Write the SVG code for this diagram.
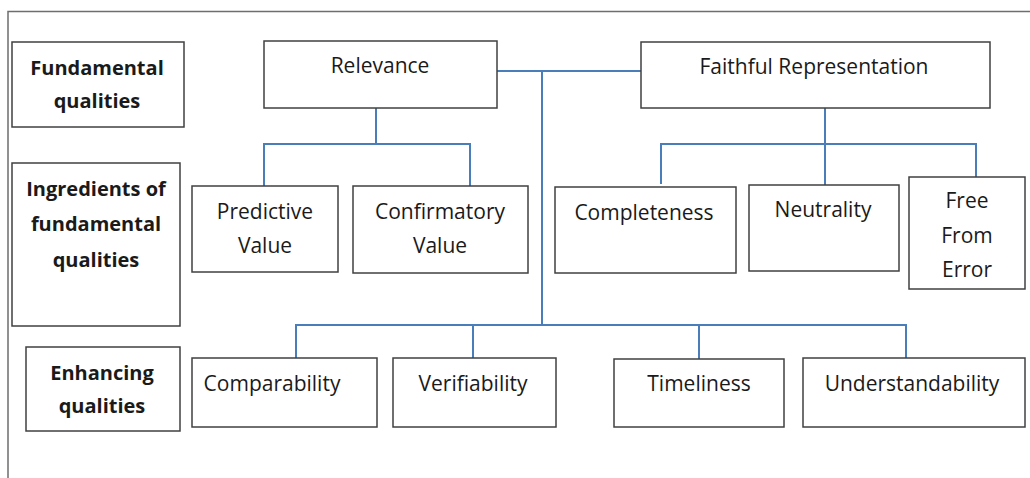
<svg xmlns="http://www.w3.org/2000/svg" width="1030" height="478" viewBox="0 0 1030 478">
<style>
.box{fill:#fff;stroke:#404040;stroke-width:1.5}
.frame{fill:none;stroke:#6e6e6e;stroke-width:1.5}
.conn{fill:none;stroke:#4a7ebb;stroke-width:2}
text{font-family:"Open Sans","Liberation Sans",sans-serif;font-size:21px;fill:#1a1a1a;text-anchor:middle}
.b{font-weight:bold;font-size:20px}
</style>
<rect width="1030" height="478" fill="#fff"/>
<path class="frame" d="M8,478 V11.5 H1030"/>
<g id="connectors">
<path class="conn" d="M497,71 H641 M542,71 V325"/>
<path class="conn" d="M376,108 V144 M264,186 V144 H470 V186"/>
<path class="conn" d="M825,108 V185 M661,184 V144 H976 V177"/>
<path class="conn" d="M296,358 V325 H906 V358 M473,325 V358 M699,325 V359"/>
</g>
<g id="label-fundamental"><rect class="box" x="12" y="42" width="172" height="85"/><text class="b" x="97" y="75">Fundamental</text><text class="b" x="97" y="108">qualities</text></g>
<g id="label-ingredients"><rect class="box" x="12" y="163" width="168" height="163"/><text class="b" x="96" y="196">Ingredients of</text><text class="b" x="96" y="231">fundamental</text><text class="b" x="96" y="267">qualities</text></g>
<g id="label-enhancing"><rect class="box" x="26" y="347" width="154" height="84"/><text class="b" x="102" y="380">Enhancing</text><text class="b" x="102" y="413">qualities</text></g>
<g id="relevance"><rect class="box" x="264" y="41" width="233" height="67"/><text x="380" y="73">Relevance</text></g>
<g id="faithful"><rect class="box" x="641" y="42" width="349" height="66"/><text x="814" y="74">Faithful Representation</text></g>
<g id="predictive"><rect class="box" x="192" y="186" width="146" height="86"/><text x="265" y="219">Predictive</text><text x="265" y="253">Value</text></g>
<g id="confirmatory"><rect class="box" x="353" y="186" width="175" height="87"/><text x="440" y="219">Confirmatory</text><text x="440" y="253">Value</text></g>
<g id="completeness"><rect class="box" x="555" y="187" width="181" height="86"/><text x="644" y="220">Completeness</text></g>
<g id="neutrality"><rect class="box" x="749" y="185" width="150" height="86"/><text x="823" y="217">Neutrality</text></g>
<g id="free-from-error"><rect class="box" x="909" y="177" width="116" height="112"/><text x="967" y="208">Free</text><text x="967" y="243">From</text><text x="967" y="277">Error</text></g>
<g id="comparability"><rect class="box" x="192" y="358" width="185" height="69"/><text x="272" y="391">Comparability</text></g>
<g id="verifiability"><rect class="box" x="393" y="358" width="163" height="69"/><text x="473" y="391">Verifiability</text></g>
<g id="timeliness"><rect class="box" x="614" y="359" width="170" height="68"/><text x="699" y="391">Timeliness</text></g>
<g id="understandability"><rect class="box" x="803" y="358" width="222" height="69"/><text x="912" y="391">Understandability</text></g>
</svg>
